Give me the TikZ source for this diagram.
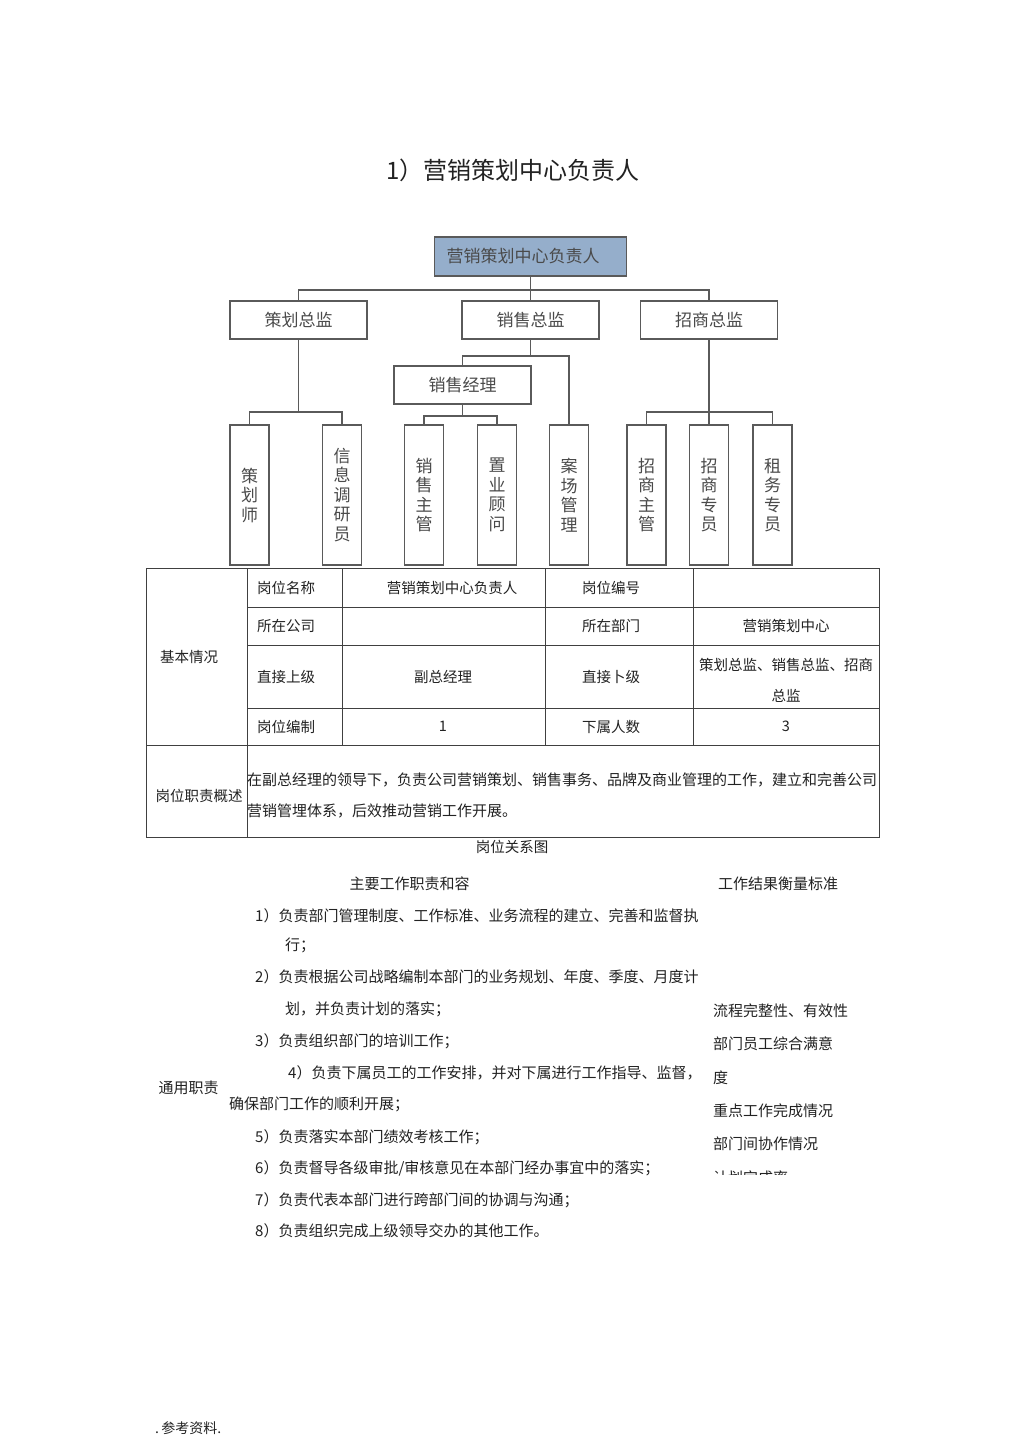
\documentclass[tikz,border=0pt]{standalone}
\usepackage{fontspec}
\setmainfont{Noto Sans CJK SC}
\usetikzlibrary{positioning}
\definecolor{boxline}{HTML}{5A5A5A}
\definecolor{headfill}{HTML}{95AECB}
\definecolor{orgtext}{HTML}{4A4A4A}
\definecolor{bodytext}{HTML}{222222}
\newcommand{\pxfont}[1]{\fontsize{#1}{#1}\selectfont}

\begin{document}
\begin{tikzpicture}[x=1pt,y=-1pt,
  orgbox/.style={draw=boxline,line width=1.3pt,fill=white,inner sep=0pt,
                 text=orgtext,font=\pxfont{17}},
  headbox/.style={orgbox,fill=headfill,minimum height=39pt,text width=168pt,
                  inner xsep=12pt,align=left},
  midbox/.style={orgbox,minimum width=137pt,minimum height=38pt},
  leafbox/.style={orgbox,minimum width=39pt,minimum height=140pt,align=center,
                  font=\fontsize{17}{19.5}\selectfont},
  link/.style={draw=boxline,line width=1.3pt},
  grid/.style={draw=black!75,line width=0.8pt},
  cell/.style={text=bodytext,font=\pxfont{14.5},inner sep=0pt},
  lcell/.style={cell,anchor=west},
  body/.style={text=bodytext,font=\pxfont{15},inner sep=0pt,anchor=west}]
\useasboundingbox[fill=white] (0,0) rectangle (1024,1450);

% title
\node[text=bodytext,font=\pxfont{24}] (title) at (513,170) {1）营销策划中心负责人};

% org chart
\node[headbox] (head) at (530.5,256.5) {营销策划中心负责人};
\node[midbox] (plan) at (298.5,320) {策划总监};
\node[midbox] (sales) at (530.5,320) {销售总监};
\node[midbox] (invest) at (709,320) {招商总监};
\node[midbox] (salesmgr) at (462.5,385) {销售经理};
\node[leafbox] (planner) at (249.5,495) {策\\划\\师};
\node[leafbox] (research) at (342,495) {信\\息\\调\\研\\员};
\node[leafbox] (salessup) at (424,495) {销\\售\\主\\管};
\node[leafbox] (consult) at (497,495) {置\\业\\顾\\问};
\node[leafbox] (site) at (569,495) {案\\场\\管\\理};
\node[leafbox] (invsup) at (646.5,495) {招\\商\\主\\管};
\node[leafbox] (invstaff) at (709,495) {招\\商\\专\\员};
\node[leafbox] (lease) at (772.5,495) {租\\务\\专\\员};

\coordinate (bus top) at (530.5,290);
\coordinate (bus sales) at (530.5,356);
\coordinate (bus mgr) at (462.5,416);
\coordinate (bus plan) at (298.5,412);
\coordinate (bus inv) at (709,412);
\draw[link] (head.south) -- (sales.north);
\draw[link] (plan.north) |- (bus top) -| (invest.north);
\draw[link] (sales.south) -- (bus sales);
\draw[link] (salesmgr.north) |- (bus sales) -| (site.north);
\draw[link] (salesmgr.south) -- (bus mgr);
\draw[link] (salessup.north) |- (bus mgr) -| (consult.north);
\draw[link] (plan.south) -- (bus plan);
\draw[link] (planner.north) |- (bus plan) -| (research.north);
\draw[link] (invest.south) -- (invstaff.north);
\draw[link] (invsup.north) |- (bus inv) -| (lease.north);

% table
\draw[grid] (146,568) rectangle (879,837);
\draw[grid] (247,568) -- (247,837);
\foreach \x in {342,545,693} \draw[grid] (\x,568) -- (\x,745);
\foreach \y in {607,645,708} \draw[grid] (247,\y) -- (879,\y);
\draw[grid] (146,745) -- (879,745);

\node[cell] (basic) at (189,657) {基本情况};
\node[lcell] (name lbl) at (257,587.5) {岗位名称};
\node[cell] (name val) at (452,587.5) {营销策划中心负责人};
\node[lcell] (code lbl) at (582,587.5) {岗位编号};
\node[lcell] (corp lbl) at (257,626) {所在公司};
\node[lcell] (dept lbl) at (582,626) {所在部门};
\node[cell] (dept val) at (786,626) {营销策划中心};
\node[lcell] (boss lbl) at (257,676.5) {直接上级};
\node[cell] (boss val) at (443,676.5) {副总经理};
\node[lcell] (sub lbl) at (582,676.5) {直接卜级};
\node[cell,align=center,font=\fontsize{14.5}{31}\selectfont] (sub val) at (786,680.5)
  {策划总监、销售总监、招商\\总监};
\node[lcell] (quota lbl) at (257,726.5) {岗位编制};
\node[cell] (quota val) at (443,726.5) {1};
\node[lcell] (staff lbl) at (582,726.5) {下属人数};
\node[cell] (staff val) at (786,726.5) {3};
\node[cell] (duty lbl) at (199,795.5) {岗位职责概述};
\node[lcell,align=left,font=\fontsize{15}{31}\selectfont] (duty val) at (247,795.5)
  {在副总经理的领导下，负责公司营销策划、销售事务、品牌及商业管理的工作，建立和完善公司\\营销管埋体系，后效推动营销工作开展。};
\node[cell] (caption) at (512,847) {岗位关系图};

% duties
\node[cell,font=\pxfont{15}] (main head) at (409.5,884) {主要工作职责和容};
\node[cell,font=\pxfont{15}] (std head) at (778,884) {工作结果衡量标准};
\node[cell,font=\pxfont{15}] (general) at (188.5,1088) {通用职责};
\node[body] (item1) at (255,916) {1）负责部门管理制度、工作标准、业务流程的建立、完善和监督执};
\node[body] (item1b) at (285,945) {行；};
\node[body] (item2) at (255,977) {2）负责根据公司战略编制本部门的业务规划、年度、季度、月度计};
\node[body] (item2b) at (285,1009) {划，并负责计划的落实；};
\node[body] (item3) at (255,1041) {3）负责组织部门的培训工作；};
\node[body] (item4) at (288,1073) {4）负责下属员工的工作安排，并对下属进行工作指导、监督，};
\node[body] (item4b) at (229,1104) {确保部门工作的顺利开展；};
\node[body] (item5) at (255,1137) {5）负责落实本部门绩效考核工作；};
\node[body] (item6) at (255,1168) {6）负责督导各级审批/审核意见在本部门经办事宜中的落实；};
\node[body] (item7) at (255,1200) {7）负责代表本部门进行跨部门间的协调与沟通；};
\node[body] (item8) at (255,1231) {8）负责组织完成上级领导交办的其他工作。};

\node[body] (std1) at (713,1011) {流程完整性、有效性};
\node[body] (std2) at (713,1044) {部门员工综合满意};
\node[body] (std3) at (713,1078) {度};
\node[body] (std4) at (713,1111) {重点工作完成情况};
\node[body] (std5) at (713,1144) {部门间协作情况};
\begin{scope}
  \clip (700,1165) rectangle (860,1174.5);
  \node[body] (std6) at (713,1178) {计划完成率};
\end{scope}

\node[body,font=\pxfont{14}] (footer) at (155,1428) {.\,参考资料.};
\end{tikzpicture}
\end{document}
